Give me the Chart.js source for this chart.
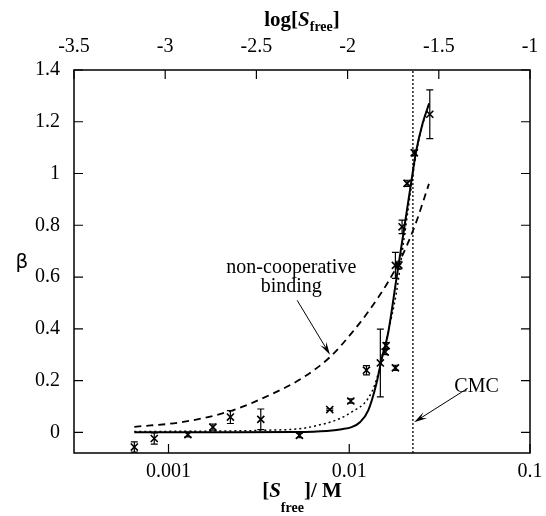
<!DOCTYPE html>
<html>
<head>
<meta charset="utf-8">
<script src="https://cdn.jsdelivr.net/npm/chart.js@4/dist/chart.umd.min.js"></script>
<style>
    html, body { margin: 0; padding: 0; background: #fff; }
</style>
</head>
<body>
<canvas id="beta-chart" width="546" height="516"></canvas>
<script>
// Axis ticks
const xTicks = [0.001, 0.01, 0.1];
const topTicks = [-3.5, -3, -2.5, -2, -1.5, -1];
const yTicks = [0, 0.2, 0.4, 0.6, 0.8, 1, 1.2, 1.4];

// Measured beta with error bars
const expConc = [0.000647, 0.000834, 0.00128, 0.00176, 0.0022, 0.00324, 0.0053, 0.0078, 0.0102, 0.01245, 0.01486, 0.0158, 0.0160, 0.0180, 0.0180, 0.0188, 0.0196, 0.0209, 0.0229, 0.0279];
const expBeta = [-0.057, -0.024, -0.009, 0.02, 0.059, 0.05, -0.012, 0.088, 0.121, 0.24, 0.268, 0.31, 0.335, 0.249, 0.645, 0.646, 0.794, 0.962, 1.08, 1.229];
const expErr  = [0.02, 0.022, 0.009, 0.012, 0.025, 0.04, 0.009, 0.003, 0.008, 0.018, 0.131, 0.01, 0.012, 0.01, 0.05, 0.015, 0.026, 0.012, 0.01, 0.094];

// Cooperative fit (solid)
const coopConc = [0.000647, 0.002, 0.005, 0.0075, 0.0091, 0.0103, 0.0115, 0.01274, 0.01413, 0.01506, 0.01637, 0.01819, 0.02019, 0.02197, 0.02342, 0.02547, 0.02768];
const coopBeta = [0.0, 0.0, 0.001, 0.005, 0.012, 0.02, 0.04, 0.085, 0.188, 0.278, 0.38, 0.588, 0.794, 0.962, 1.084, 1.194, 1.271];

// Dotted fit
const dotConc = [0.000647, 0.002, 0.0035, 0.0055, 0.0068, 0.0083, 0.0103, 0.0127, 0.0141, 0.0152, 0.0165, 0.0182, 0.0202, 0.022, 0.0234, 0.0255, 0.0277];
const dotBeta = [0.003, 0.005, 0.008, 0.015, 0.028, 0.045, 0.078, 0.13, 0.2, 0.29, 0.394, 0.537, 0.76, 0.945, 1.075, 1.19, 1.27];

// Non-cooperative binding (dashed)
const nonCoopConc = [0.000647, 0.001205, 0.002265, 0.0036, 0.00548, 0.0078, 0.0103, 0.01327, 0.01637, 0.01936, 0.02312, 0.0276];
const nonCoopBeta = [0.021, 0.04, 0.085, 0.143, 0.209, 0.29, 0.383, 0.483, 0.58, 0.673, 0.80, 0.96];

const cmcConc = 0.0225;
const yMin = -0.08;
const yMax = 1.4;

const serif = "'Liberation Serif', 'Times New Roman', serif";

function toPoints(xs, ys) {
    return xs.map((x, i) => ({ x: x, y: ys[i] }));
}

function setTicks(list) {
    return function(scale) {
        scale.ticks = list.map(v => ({ value: v }));
    };
}

// Horizontal axes: fixed height, and no extra side padding from edge labels
function fixHeight(h) {
    return function(scale) {
        scale.height = h;
        scale.paddingLeft = 0;
        scale.paddingRight = 16;
    };
}

// Draw a line of text made of differently styled parts, centred on cx
function drawRich(ctx, parts, cx, baseY) {
    let total = 0;
    parts.forEach(p => {
        ctx.font = p.font;
        p.w = ctx.measureText(p.text).width;
        total += p.w;
    });
    let x = cx - total / 2;
    ctx.textAlign = 'left';
    ctx.textBaseline = 'alphabetic';
    parts.forEach(p => {
        ctx.font = p.font;
        ctx.fillText(p.text, x, baseY + (p.dy || 0));
        x += p.w;
    });
}

function drawArrow(ctx, x1, y1, x2, y2) {
    const ang = Math.atan2(y2 - y1, x2 - x1);
    const len = 13, half = 3.5;
    const cos = Math.cos(ang), sin = Math.sin(ang);
    ctx.beginPath();
    ctx.moveTo(x1, y1);
    ctx.lineTo(x2 - cos * len * 0.6, y2 - sin * len * 0.6);
    ctx.stroke();
    ctx.beginPath();
    ctx.moveTo(x2, y2);
    ctx.lineTo(x2 - cos * len - sin * half, y2 - sin * len + cos * half);
    ctx.lineTo(x2 - cos * len * 0.6, y2 - sin * len * 0.6);
    ctx.lineTo(x2 - cos * len + sin * half, y2 - sin * len - cos * half);
    ctx.closePath();
    ctx.fill();
}

const framePlugin = {
    id: 'frame',
    beforeDraw(chart) {
        const ctx = chart.ctx;
        ctx.save();
        ctx.fillStyle = '#fff';
        ctx.fillRect(0, 0, chart.width, chart.height);
        ctx.restore();
    },
    afterDatasetsDraw(chart) {
        const ctx = chart.ctx;
        const a = chart.chartArea;
        const sx = chart.scales.x, sx2 = chart.scales.x2, sy = chart.scales.y;
        ctx.save();
        ctx.strokeStyle = '#000';
        ctx.fillStyle = '#000';

        // error bars
        ctx.lineWidth = 1.2;
        expConc.forEach((c, i) => {
            const px = sx.getPixelForValue(c);
            const top = sy.getPixelForValue(expBeta[i] + expErr[i]);
            const bot = sy.getPixelForValue(expBeta[i] - expErr[i]);
            ctx.beginPath();
            ctx.moveTo(px, top); ctx.lineTo(px, bot);
            ctx.moveTo(px - 3.5, top); ctx.lineTo(px + 3.5, top);
            ctx.moveTo(px - 3.5, bot); ctx.lineTo(px + 3.5, bot);
            ctx.stroke();
        });

        // box
        ctx.lineWidth = 1.5;
        ctx.strokeRect(a.left, a.top, a.right - a.left, a.bottom - a.top);

        // inward ticks
        const tl = 9;
        ctx.lineWidth = 1.2;
        ctx.beginPath();
        yTicks.forEach(v => {
            const py = sy.getPixelForValue(v);
            ctx.moveTo(a.left, py); ctx.lineTo(a.left + tl, py);
            ctx.moveTo(a.right, py); ctx.lineTo(a.right - tl, py);
        });
        xTicks.forEach(v => {
            const px = sx.getPixelForValue(v);
            ctx.moveTo(px, a.bottom); ctx.lineTo(px, a.bottom - tl);
        });
        topTicks.forEach(v => {
            const px = sx2.getPixelForValue(v);
            ctx.moveTo(px, a.top); ctx.lineTo(px, a.top + tl);
        });
        ctx.stroke();

        // axis titles
        drawRich(ctx, [
            { text: 'log[', font: 'bold 21px ' + serif },
            { text: 'S', font: 'italic bold 21px ' + serif },
            { text: 'free', font: 'bold 14px ' + serif, dy: 5 },
            { text: ']', font: 'bold 21px ' + serif }
        ], (a.left + a.right) / 2, 26);
        drawRich(ctx, [
            { text: '[', font: 'bold 21px ' + serif },
            { text: 'S', font: 'italic bold 21px ' + serif },
            { text: 'free', font: 'bold 14px ' + serif, dy: 15 },
            { text: ']/ M', font: 'bold 21px ' + serif }
        ], (a.left + a.right) / 2, 497);
        ctx.font = "20px 'DejaVu Sans', sans-serif";
        ctx.textAlign = 'center';
        ctx.textBaseline = 'alphabetic';
        ctx.fillText('\u03B2', 22, 268);

        // annotations
        ctx.font = '20px ' + serif;
        ctx.fillText('non-cooperative', sx.getPixelForValue(0.00478), sy.getPixelForValue(0.615));
        ctx.fillText('binding', sx.getPixelForValue(0.00478), sy.getPixelForValue(0.5425));
        ctx.fillText('CMC', sx.getPixelForValue(0.0506), sy.getPixelForValue(0.155));
        ctx.lineWidth = 1;
        drawArrow(ctx, sx.getPixelForValue(0.00515), sy.getPixelForValue(0.51),
                       sx.getPixelForValue(0.00782), sy.getPixelForValue(0.30));
        drawArrow(ctx, sx.getPixelForValue(0.0452), sy.getPixelForValue(0.17),
                       sx.getPixelForValue(0.02286), sy.getPixelForValue(0.039));
        ctx.restore();
    }
};

const ctx = document.getElementById('beta-chart');
new Chart(ctx, {
    type: 'scatter',
    data: {
        datasets: [
            {
                label: 'non-cooperative',
                data: toPoints(nonCoopConc, nonCoopBeta),
                showLine: true,
                borderColor: '#000',
                borderWidth: 1.8,
                borderDash: [7, 5],
                cubicInterpolationMode: 'monotone',
                pointRadius: 0
            },
            {
                label: 'dotted fit',
                data: toPoints(dotConc, dotBeta),
                showLine: true,
                borderColor: '#000',
                borderWidth: 1.5,
                borderDash: [2, 3],
                cubicInterpolationMode: 'monotone',
                pointRadius: 0
            },
            {
                label: 'cooperative fit',
                data: toPoints(coopConc, coopBeta),
                showLine: true,
                borderColor: '#000',
                borderWidth: 2,
                cubicInterpolationMode: 'monotone',
                pointRadius: 0
            },
            {
                label: 'CMC',
                data: [{ x: cmcConc, y: yMin }, { x: cmcConc, y: yMax }],
                showLine: true,
                borderColor: '#000',
                borderWidth: 1.3,
                borderDash: [2, 2],
                pointRadius: 0
            },
            {
                label: 'experiment',
                data: toPoints(expConc, expBeta),
                pointStyle: 'crossRot',
                pointRadius: 5,
                borderColor: '#000',
                borderWidth: 1.6,
                backgroundColor: '#000'
            }
        ]
    },
    options: {
        responsive: false,
        animation: false,
        layout: { padding: 0 },
        plugins: {
            legend: { display: false },
            tooltip: { enabled: false }
        },
        scales: {
            x: {
                type: 'logarithmic',
                position: 'bottom',
                min: Math.pow(10, -3.5),
                max: 0.1,
                afterBuildTicks: setTicks(xTicks),
                afterFit: fixHeight(63),
                grid: { display: false, drawTicks: false },
                border: { display: false },
                ticks: {
                    autoSkip: false,
                    maxRotation: 0,
                    padding: 7,
                    color: '#000',
                    font: { family: serif, size: 20 },
                    callback: v => String(v)
                }
            },
            x2: {
                type: 'linear',
                position: 'top',
                min: -3.5,
                max: -1,
                afterBuildTicks: setTicks(topTicks),
                afterFit: fixHeight(70),
                grid: { display: false, drawTicks: false },
                border: { display: false },
                ticks: {
                    autoSkip: false,
                    maxRotation: 0,
                    padding: 11,
                    color: '#000',
                    font: { family: serif, size: 20 },
                    callback: v => String(v)
                }
            },
            y: {
                min: yMin,
                max: yMax,
                afterBuildTicks: setTicks(yTicks),
                afterFit: function(s) { s.width = 74; },
                grid: { display: false, drawTicks: false },
                border: { display: false },
                ticks: {
                    autoSkip: false,
                    padding: 14,
                    color: '#000',
                    font: { family: serif, size: 20 },
                    callback: v => String(v)
                }
            }
        }
    },
    plugins: [framePlugin]
});
</script>
</body>
</html>
